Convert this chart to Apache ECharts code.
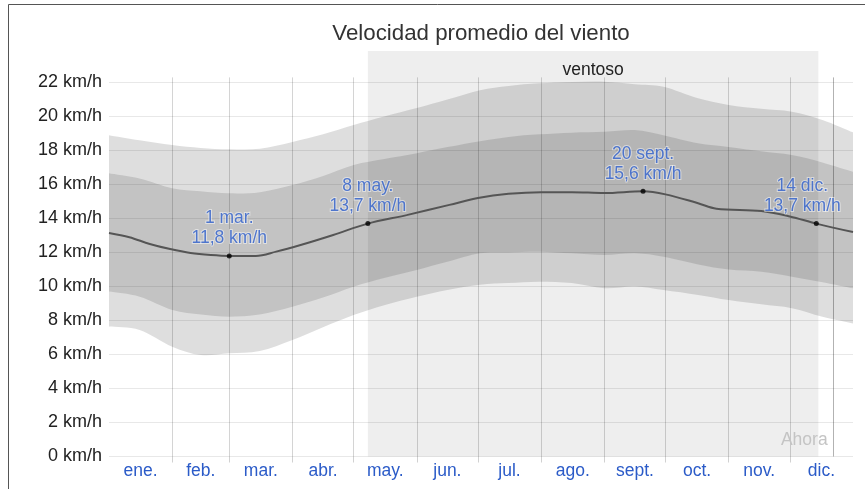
<!DOCTYPE html>
<html>
<head>
<meta charset="utf-8">
<script src="https://cdn.jsdelivr.net/npm/echarts@6/dist/echarts.min.js"></script>
<style>
html,body{margin:0;padding:0;background:#fff;}
#chart{width:865px;height:489px;}
</style>
</head>
<body>
<div id="chart"></div>
<script>
// ---- data ----
const titleText = 'Velocidad promedio del viento';
const monthNames = ['ene.', 'feb.', 'mar.', 'abr.', 'may.', 'jun.', 'jul.', 'ago.', 'sept.', 'oct.', 'nov.', 'dic.'];
const monthStarts = [31, 59, 90, 120, 151, 181, 212, 243, 273, 304, 334];
const monthMids = [15.5, 45, 74.5, 105, 135.5, 166, 196.5, 227.5, 258, 288.5, 319, 349.5];
const yTicks = [0, 2, 4, 6, 8, 10, 12, 14, 16, 18, 20, 22];

const bandDays = [0, 15, 31, 45, 59, 74, 90, 105, 120, 135, 151, 166, 182, 196, 211, 227, 243, 258, 272, 289, 304, 320, 335, 350, 365];
const p90 = [18.9, 18.6, 18.32, 18.15, 18.07, 18.1, 18.5, 18.95, 19.5, 20.0, 20.5, 21.0, 21.55, 21.8, 21.95, 22.03, 22.05, 21.9, 21.75, 21.07, 20.68, 20.45, 20.28, 19.8, 19.07];
const p75 = [16.66, 16.35, 15.78, 15.6, 15.48, 15.55, 15.97, 16.5, 17.15, 17.5, 17.84, 18.2, 18.55, 18.8, 18.95, 19.05, 19.1, 19.2, 18.9, 18.42, 18.2, 17.95, 17.73, 17.3, 16.75];
const p25 = [9.7, 9.4, 8.62, 8.35, 8.22, 8.35, 8.81, 9.35, 9.99, 10.5, 10.97, 11.45, 11.95, 12.0, 12.05, 11.95, 11.85, 11.95, 11.75, 11.3, 11.0, 10.87, 10.58, 10.25, 9.89];
const p10 = [7.64, 7.44, 6.46, 5.97, 6.07, 6.2, 6.85, 7.6, 8.32, 8.9, 9.4, 9.8, 10.1, 10.2, 10.28, 10.2, 9.9, 10.0, 9.79, 9.5, 9.2, 8.95, 8.72, 8.22, 7.83];

const meanDays = [0, 10, 20, 30, 40, 50, 59, 72, 82, 94, 110, 127, 146, 167, 181, 196, 212, 227, 243, 262, 273, 289, 298, 320, 334, 347, 365];
const meanVals = [13.15, 12.9, 12.5, 12.2, 11.97, 11.85, 11.8, 11.8, 12.05, 12.44, 13.03, 13.7, 14.2, 14.8, 15.2, 15.45, 15.55, 15.55, 15.5, 15.6, 15.42, 14.9, 14.58, 14.44, 14.12, 13.7, 13.2];

const annDays = [59, 127, 262, 347];
const annVals = [11.8, 13.7, 15.6, 13.7];
const annNames = ['1 mar.', '8 may.', '20 sept.', '14 dic.'];

const windyStart = 127, windyEnd = 348, windyTop = 23.85;
const windyLabel = 'ventoso';
const nowDay = 355.5;
const nowLabel = 'Ahora';

// ---- chart ----
const FONT = '"Liberation Sans", Arial, sans-serif';
const BLUE = '#2b5bc8';
const chart = echarts.init(document.getElementById('chart'), null, { renderer: 'canvas' });

// smooth path through pixel points (Catmull-Rom -> cubic Bezier)
function curveSegs(pts, t) {
  let s = '';
  for (let i = 0; i < pts.length - 1; i++) {
    const p0 = pts[Math.max(i - 1, 0)], p1 = pts[i], p2 = pts[i + 1], p3 = pts[Math.min(i + 2, pts.length - 1)];
    const c1x = p1[0] + (p2[0] - p0[0]) * t, c1y = p1[1] + (p2[1] - p0[1]) * t;
    const c2x = p2[0] - (p3[0] - p1[0]) * t, c2y = p2[1] - (p3[1] - p1[1]) * t;
    s += ' C' + c1x + ',' + c1y + ' ' + c2x + ',' + c2y + ' ' + p2[0] + ',' + p2[1];
  }
  return s;
}

function band(lower, upper, color, z) {
  return {
    type: 'custom', z: z, silent: true, clip: true,
    data: [[0, 0]],
    renderItem: function (params, api) {
      const up = bandDays.map((d, i) => api.coord([d, upper[i]]));
      const lo = bandDays.map((d, i) => api.coord([d, lower[i]])).reverse();
      const path = 'M' + up[0][0] + ',' + up[0][1] + curveSegs(up, 1 / 6) +
        ' L' + lo[0][0] + ',' + lo[0][1] + curveSegs(lo, 1 / 6) + ' Z';
      return { type: 'path', shape: { pathData: path }, style: { fill: color } };
    }
  };
}

const gridColors = yTicks.map(() => 'rgba(0,0,0,0.09)').concat(['rgba(0,0,0,0)']);

const option = {
  animation: false,
  textStyle: { fontFamily: FONT },
  title: {
    text: titleText, left: 481, top: 23, textAlign: 'center', padding: 0,
    textStyle: { fontSize: 22.3, fontWeight: 'normal', color: '#333', fontFamily: FONT }
  },
  graphic: [{
    type: 'rect', shape: { x: 8.5, y: 4.5, width: 1000, height: 1000 },
    style: { fill: 'none', stroke: '#555', lineWidth: 1 }, silent: true, z: 100
  }],
  grid: { left: 109, right: 12, top: 48.5, bottom: 32.5, containLabel: false },
  xAxis: {
    type: 'value', min: 0, max: 365, z: 3,
    axisLine: { show: false },
    splitLine: { show: false },
    axisTick: { show: true, customValues: monthStarts, length: 6, lineStyle: { color: 'rgba(0,0,0,0.18)' } },
    axisLabel: {
      customValues: monthMids, margin: 6, fontSize: 17.5, color: BLUE, fontFamily: FONT,
      formatter: function (v) { const i = monthMids.indexOf(v); return i >= 0 ? monthNames[i] : ''; }
    }
  },
  yAxis: {
    type: 'value', min: 0, max: 24, interval: 2, z: 3,
    axisLine: { show: false },
    axisTick: { show: true, length: 6, lineStyle: { color: gridColors } },
    splitLine: { show: true, lineStyle: { color: gridColors, width: 1 } },
    axisLabel: {
      margin: 7, fontSize: 18, color: '#222', fontFamily: FONT,
      formatter: function (v) { return yTicks.indexOf(v) >= 0 ? v + ' km/h' : ''; }
    }
  },
  series: [
    {
      type: 'line', data: [], z: 1, silent: true,
      markArea: {
        silent: true,
        itemStyle: { color: '#eeeeee' },
        label: { show: true, position: 'insideTop', distance: 10, color: '#222', fontSize: 17.5, fontFamily: FONT },
        data: [[{ name: windyLabel, coord: [windyStart, 0] }, { coord: [windyEnd, windyTop] }]]
      }
    },
    band(p10, p90, 'rgba(0,0,0,0.13)', 2),
    band(p25, p75, 'rgba(0,0,0,0.12)', 2),
    {
      type: 'line', data: [], z: 3, silent: true,
      markLine: {
        silent: true, symbol: 'none', animation: false,
        label: { show: false },
        lineStyle: { color: 'rgba(0,0,0,0.17)', width: 1, type: 'solid' },
        data: monthStarts.map(d => [{ coord: [d, 0] }, { coord: [d, 22.3] }]).concat([
          [{ coord: [nowDay, 0], lineStyle: { color: 'rgba(0,0,0,0.3)' } }, { coord: [nowDay, 22.3] }]
        ])
      },
      markPoint: {
        silent: true, symbol: 'circle', symbolSize: 0,
        label: { show: true, position: 'left', distance: 6, color: '#c4c4c4', fontSize: 17.5, fontFamily: FONT, formatter: nowLabel },
        data: [{ coord: [nowDay, 0.96] }]
      }
    },
    {
      type: 'line', z: 5, silent: true, smooth: 0.35, symbol: 'none',
      lineStyle: { color: '#555', width: 2 },
      data: meanDays.map((d, i) => [d, meanVals[i]])
    },
    {
      type: 'scatter', z: 6, silent: true, symbolSize: 5,
      itemStyle: { color: '#000' },
      label: {
        show: true, position: 'top', distance: 5, color: BLUE, fontSize: 17.5, lineHeight: 20,
        fontFamily: FONT, textBorderColor: 'rgba(255,255,255,0.6)', textBorderWidth: 2, align: 'center',
        formatter: function (p) { return p.name + '\n' + p.value[1].toFixed(1).replace('.', ',') + ' km/h'; }
      },
      data: annDays.map((d, i) => {
        const item = { name: annNames[i], value: [d, annVals[i]] };
        if (i === annDays.length - 1) item.label = { offset: [-14, 0] };
        return item;
      })
    }
  ]
};
chart.setOption(option);
</script>
</body>
</html>
